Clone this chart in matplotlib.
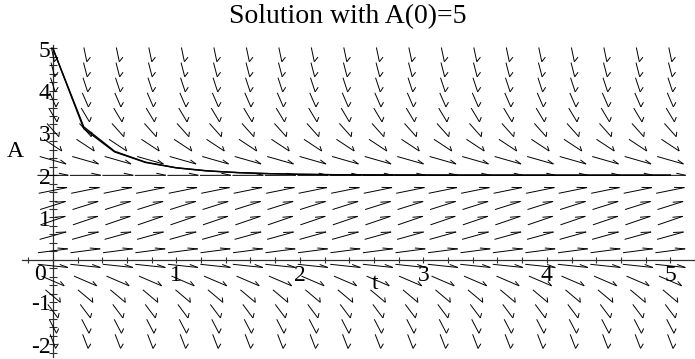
import numpy as np
import matplotlib
matplotlib.use("Agg")
import matplotlib.pyplot as plt
from matplotlib.collections import LineCollection

plt.rcParams["font.family"] = ["Liberation Serif", "DejaVu Serif"]

# direction field grid for dA/dt = A(2 - A)
t_cols = [0.0, 0.263, 0.526, 0.789, 1.053, 1.316, 1.579, 1.842, 2.105, 2.368,
          2.632, 2.895, 3.158, 3.421, 3.684, 3.947, 4.211, 4.474, 4.737, 5.0]
A_rows = [-1.930, -1.573, -1.216, -0.859, -0.502, -0.145, 0.212, 0.569, 0.926, 1.283,
          1.640, 1.997, 2.354, 2.711, 3.068, 3.425, 3.782, 4.139, 4.496, 4.853]
row_slopes = [-7.585, -5.620, -3.911, -2.456, -1.256, -0.311, 0.379, 0.814, 0.995, 0.920,
              0.590, 0.006, -0.833, -1.928, -3.277, -4.881, -6.740, -8.853, -11.222, -13.846]

# solution curves starting at A(0)=5
t_sol = [0.0, 0.25, 0.5, 0.75, 1.0, 1.25, 1.5, 1.75, 2.0, 2.25, 2.5,
         2.75, 3.0, 3.25, 3.5, 3.75, 4.0, 4.25, 4.5, 4.75, 5.0]
A_num = [5.0, 3.102, 2.551, 2.302, 2.173, 2.101, 2.060, 2.036, 2.021, 2.013, 2.008,
         2.005, 2.003, 2.002, 2.001, 2.001, 2.0, 2.0, 2.0, 2.0, 2.0]
A_exact = [5.0, 3.144, 2.566, 2.309, 2.177, 2.104, 2.062, 2.037, 2.022, 2.013, 2.008,
           2.005, 2.003, 2.002, 2.001, 2.001, 2.0, 2.0, 2.0, 2.0, 2.0]

x_ticklabels = ["1", "2", "3", "4", "5"]
y_ticklabels = ["-2", "-1", "1", "2", "3", "4", "5"]

fig = plt.figure(figsize=(6.95, 3.59), dpi=100)
ax = fig.add_axes([22 / 695, 2 / 359, 673 / 695, 312 / 359])
ax.set_xlim(-0.25, 5.2)
ax.set_ylim(-2.3, 5.08)

# arrows: fixed length in grid units, one barb on the left side of the tip
dt = t_cols[1] - t_cols[0]
dA = A_rows[1] - A_rows[0]
L = 0.95
h = 0.29
w = 0.14
shafts, barbs = [], []
for A, m in zip(A_rows, row_slopes):
    u, v = 1.0 / dt, m / dA
    n = np.hypot(u, v)
    u, v = u / n, v / n
    for t in t_cols:
        cu, cv = t / dt, A / dA
        tu, tv = cu - L / 2 * u, cv - L / 2 * v
        hu, hv = cu + L / 2 * u, cv + L / 2 * v
        bu, bv = hu - h * u - w * v, hv - h * v + w * u
        shafts.append([(tu * dt, tv * dA), (hu * dt, hv * dA)])
        barbs.append([(hu * dt, hv * dA), (bu * dt, bv * dA)])

ax.add_collection(LineCollection(shafts, colors="black", linewidths=0.7, zorder=3))
ax.add_collection(LineCollection(barbs, colors="black", linewidths=0.7, zorder=3))

ax.plot(t_sol, A_num, color="black", lw=1.0, zorder=4)
ax.plot(t_sol, A_exact, color="black", lw=1.0, zorder=4)

# axes through the origin
for side in ["top", "right"]:
    ax.spines[side].set_visible(False)
ax.spines["left"].set_position(("data", 0))
ax.spines["bottom"].set_position(("data", 0))
for side in ["left", "bottom"]:
    ax.spines[side].set_color("#303030")
    ax.spines[side].set_linewidth(0.9)
ax.set_xticks(np.arange(-0.2, 5.21, 0.2))
ax.set_yticks(np.arange(-2.2, 5.01, 0.2))
ax.tick_params(axis="x", direction="inout", length=4.5, width=0.8, color="#303030",
               labelbottom=False)
ax.tick_params(axis="y", direction="inout", length=6, width=0.8, color="#303030",
               labelleft=False)

fs = 17
for i, lab in enumerate(x_ticklabels):
    ax.text(i + 1, -0.38, lab, ha="center", va="center", fontsize=fs, zorder=5)
for lab in y_ticklabels:
    ax.text(-0.02, int(lab) - 0.07, lab, ha="right", va="center", fontsize=fs, zorder=5)
ax.text(-0.105, -0.35, "0", ha="center", va="center", fontsize=fs, zorder=5)

ax.text(2.61, -0.55, "t", ha="center", va="center", fontsize=fs, zorder=5)
ax.text(-0.306, 2.55, "A", ha="center", va="center", fontsize=fs, clip_on=False, zorder=5)

fig.text(0.5, 1 - 17 / 359, "Solution with A(0)=5", ha="center", va="center", fontsize=20)

fig.savefig("out.png", dpi=100)
